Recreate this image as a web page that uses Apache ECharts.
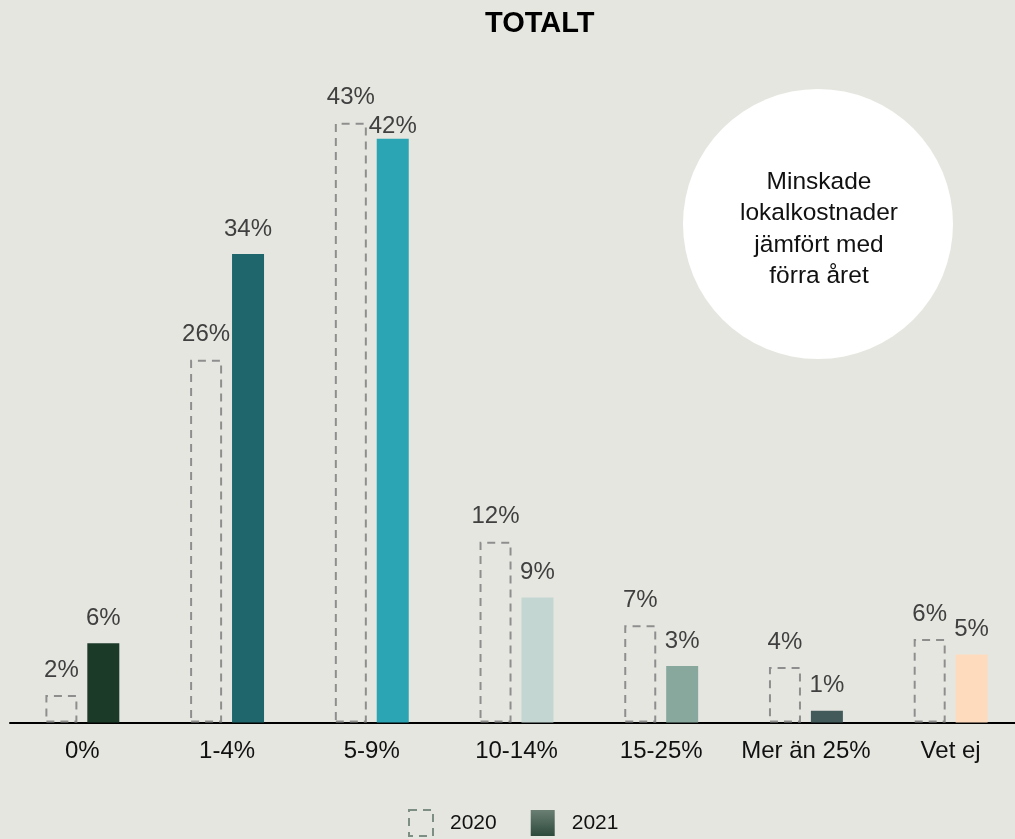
<!DOCTYPE html>
<html>
<head>
<meta charset="utf-8">
<script src="https://cdn.jsdelivr.net/npm/echarts@6/dist/echarts.min.js"></script>
<style>
html,body{margin:0;padding:0;background:#e6e6e1;overflow:hidden;}
#chart{width:1023px;height:839px;}
</style>
</head>
<body>
<div id="chart"></div>
<script>
const categories = ['0%', '1-4%', '5-9%', '10-14%', '15-25%', 'Mer än 25%', 'Vet ej'];
const values2020 = [1.98, 26.1, 43.15, 13.0, 7.0, 4.0, 6.0];
const values2021 = [5.7, 33.7, 42.0, 9.0, 4.06, 0.85, 4.9];
const labels2020 = ['2%', '26%', '43%', '12%', '7%', '4%', '6%'];
const labels2021 = ['6%', '34%', '42%', '9%', '3%', '1%', '5%'];
const colors2021 = ['#1b3a28', '#1e666b', '#2ba5b3', '#c4d6d1', '#88a89e', '#435a5b', '#fedbbd'];
const seriesNames = ['2020', '2021'];
const titleText = 'TOTALT';
const noteLines = ['Minskade', 'lokalkostnader', 'jämfört med', 'förra året'];

const chart = echarts.init(document.getElementById('chart'), null, {renderer: 'canvas'});

const legendGradient = new echarts.graphic.LinearGradient(0, 0, 0, 1, [
  {offset: 0, color: '#6b7f73'},
  {offset: 1, color: '#2d4a3d'}
]);

const data2020 = values2020.map((v, i) => ({value: v, labelText: labels2020[i]}));
const data2021 = values2021.map((v, i) => {
  const item = {value: v, labelText: labels2021[i], itemStyle: {color: colors2021[i]}};
  if (i === 2) item.label = {distance: 0};
  return item;
});

const option = {
  backgroundColor: '#e6e6e1',
  animation: false,
  title: {
    text: titleText,
    left: 485,
    top: 9,
    padding: 0,
    textStyle: {fontFamily: 'Liberation Sans, Arial', fontWeight: 'bold', fontSize: 29, color: '#000'}
  },
  legend: {
    left: 408,
    top: 809,
    padding: 0,
    itemWidth: 24,
    itemHeight: 26,
    itemGap: 34,
    icon: 'rect',
    textStyle: {fontFamily: 'Liberation Sans, Arial', fontSize: 21, color: '#111', padding: [0, 0, 0, 12]},
    data: [
      {name: seriesNames[0], itemStyle: {color: 'transparent', borderColor: '#7d8f84', borderWidth: 2, borderType: [8, 6]}},
      {name: seriesNames[1], itemStyle: {color: legendGradient, borderWidth: 0}}
    ]
  },
  grid: {left: 10, width: 1013, top: 27.5, bottom: 116.5, containLabel: false},
  xAxis: {
    type: 'category',
    data: categories,
    axisLine: {show: true, lineStyle: {color: '#000', width: 2}},
    axisTick: {show: false},
    axisLabel: {fontFamily: 'Liberation Sans, Arial', fontSize: 24, color: '#111', margin: 17, interval: 0}
  },
  yAxis: {
    type: 'value',
    min: 0,
    max: 50,
    show: false
  },
  series: [
    {
      name: seriesNames[0],
      type: 'bar',
      data: data2020,
      barWidth: 32,
      barGap: '31%',
      itemStyle: {color: 'transparent', borderColor: '#8e8e8e', borderWidth: 2, borderType: [8, 6]},
      label: {
        show: true, position: 'top', distance: 13,
        fontFamily: 'Liberation Sans, Arial', fontSize: 24, color: '#404040',
        formatter: p => p.data.labelText
      },
      z: 3
    },
    {
      name: seriesNames[1],
      type: 'bar',
      data: data2021,
      barWidth: 32,
      itemStyle: {color: '#2d4a3d'},
      label: {
        show: true, position: 'top', distance: 13,
        fontFamily: 'Liberation Sans, Arial', fontSize: 24, color: '#404040',
        formatter: p => p.data.labelText
      },
      z: 2
    }
  ],
  graphic: [
    {
      type: 'group',
      left: 683,
      top: 89,
      children: [
        {type: 'circle', shape: {cx: 135, cy: 135, r: 135}, style: {fill: '#ffffff'}},
        {
          type: 'text',
          x: 136, y: 140,
          style: {
            text: noteLines.join('\n'),
            fontFamily: 'Liberation Sans, Arial',
            fontSize: 24.5,
            lineHeight: 31.5,
            fill: '#111',
            align: 'center',
            verticalAlign: 'middle'
          }
        }
      ]
    }
  ]
};

chart.setOption(option);
</script>
</body>
</html>
